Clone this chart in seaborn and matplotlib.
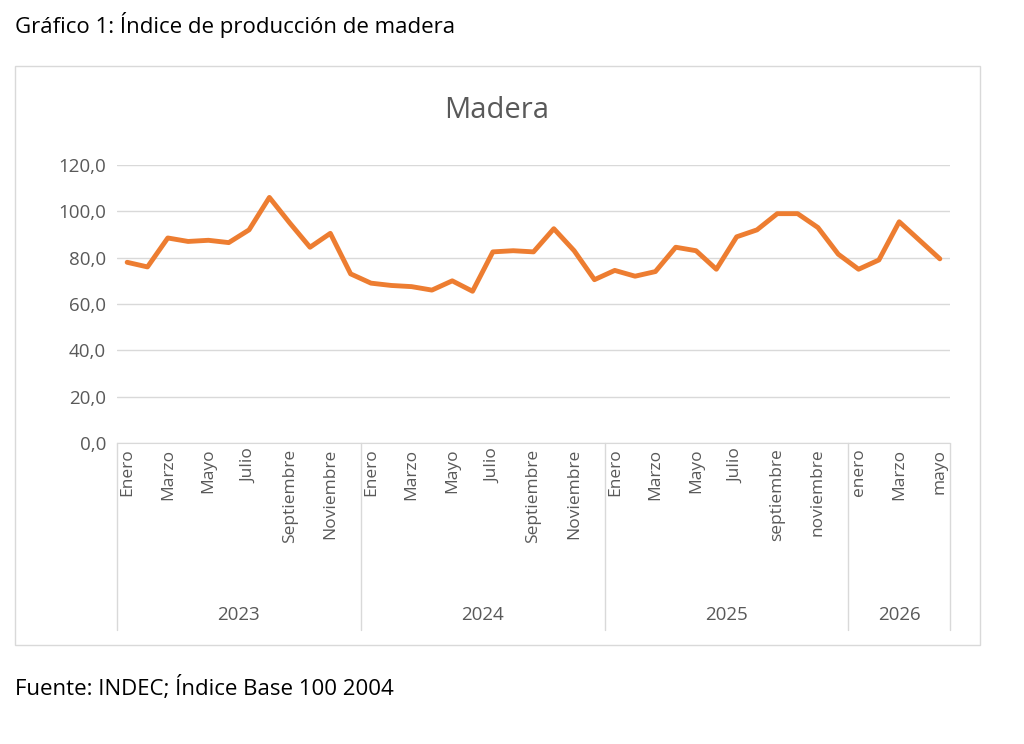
import numpy as np
import pandas as pd
import matplotlib
matplotlib.use("Agg")
import matplotlib.pyplot as plt
import matplotlib.transforms as mtransforms
import seaborn as sns

# datos
meses = ["Enero", "Febrero", "Marzo", "Abril", "Mayo", "Junio", "Julio", "Agosto",
         "Septiembre", "Octubre", "Noviembre", "Diciembre"]
meses_2025 = ["Enero", "Febrero", "Marzo", "Abril", "Mayo", "Junio", "Julio", "agosto",
              "septiembre", "octubre", "noviembre", "diciembre"]
meses_2026 = ["enero", "febrero", "Marzo", "abril", "mayo"]
anios = ["2023", "2024", "2025", "2026"]
valores_2023 = [78.0, 76.0, 88.5, 87.0, 87.5, 86.5, 92.0, 106.0, 95.0, 84.5, 90.5, 73.0]
valores_2024 = [69.0, 68.0, 67.5, 66.0, 70.0, 65.5, 82.5, 83.0, 82.5, 92.5, 83.0, 70.5]
valores_2025 = [74.5, 72.0, 74.0, 84.5, 83.0, 75.0, 89.0, 92.0, 99.0, 99.0, 93.0, 81.5]
valores_2026 = [75.0, 79.0, 95.5, 87.5, 79.5]

etiquetas = meses + meses + meses_2025 + meses_2026
valores = valores_2023 + valores_2024 + valores_2025 + valores_2026
df = pd.DataFrame({"pos": np.arange(len(valores)), "valor": valores})

sns.set_style("white")
plt.rcParams["font.family"] = ["Open Sans", "DejaVu Sans"]
gris = "#595959"

fig = plt.figure(figsize=(10.24, 7.44), dpi=100)
fig.text(15 / 1024, 1 - 25 / 744, "Gráfico 1: Índice de producción de madera",
         fontsize=16, va="center", ha="left", color="black")
fig.text(15 / 1024, 1 - 688 / 744, "Fuente: INDEC; Índice Base 100 2004",
         fontsize=16, va="center", ha="left", color="black")
caja = plt.Rectangle((15 / 1024, 1 - 645 / 744), 965 / 1024, 579 / 744,
                     transform=fig.transFigure, fill=False, edgecolor="#d9d9d9", lw=1)
fig.add_artist(caja)
fig.text(497 / 1024, 1 - 110 / 744, "Madera", fontsize=21, ha="center", va="center", color=gris)

ax = fig.add_axes([117 / 1024, 1 - 443 / 744, 833 / 1024, 278 / 744])
sns.lineplot(data=df, x="pos", y="valor", ax=ax, color="#ED7D31", lw=3.5)
n = len(valores)
ax.set_xlim(-0.5, n - 0.5)
ax.set_ylim(0, 120)
ax.set_yticks(np.arange(0, 121, 20))
ax.set_yticklabels([f"{v:.1f}".replace(".", ",") for v in np.arange(0, 121, 20)],
                   fontsize=13.5, color=gris)
ax.yaxis.grid(True, color="#d9d9d9", lw=1)
for s in ["top", "right", "left"]:
    ax.spines[s].set_visible(False)
ax.spines["bottom"].set_color("#d9d9d9")
ax.tick_params(axis="y", length=0, pad=8)
ax.set_xlabel("")
ax.set_ylabel("")

pos_vis = list(range(0, n, 2))
ax.set_xticks(pos_vis)
ax.set_xticklabels([etiquetas[i] for i in pos_vis], rotation=90, fontsize=12.5, color=gris)
ax.tick_params(axis="x", length=0, pad=4)

trans = mtransforms.blended_transform_factory(ax.transData, ax.transAxes)
limites = [-0.5, 11.5, 23.5, 35.5, n - 0.5]
for x in limites:
    ax.plot([x, x], [0, -0.673], transform=trans, color="#d9d9d9", lw=1, clip_on=False)
for i, anio in enumerate(anios):
    centro = (limites[i] + limites[i + 1]) / 2
    ax.text(centro, -0.619, anio, transform=trans, ha="center", va="center",
            fontsize=13.5, color=gris)

fig.savefig("out.png", dpi=100)
